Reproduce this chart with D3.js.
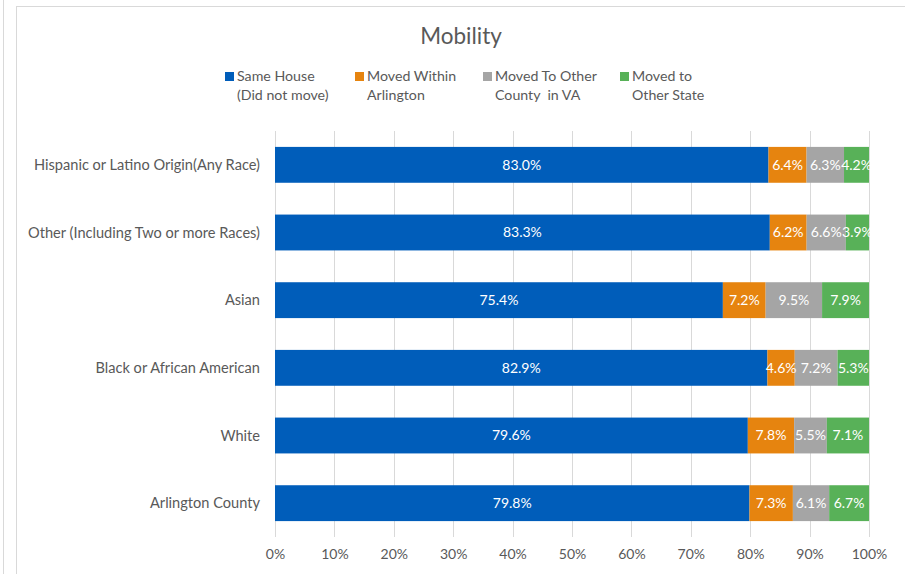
<!DOCTYPE html>
<html>
<head>
<meta charset="utf-8">
<script src="https://cdn.jsdelivr.net/npm/d3@7"></script>
<style>
  body { margin: 0; background: #fff; }
  svg text { font-family: Lato, "Open Sans", sans-serif; }
</style>
</head>
<body>
<div id="chart"></div>
<script>
let width = 905
  , height = 574
  , marginLeft = 275
  , plotRight = 869
  , plotTop = 131
  , plotBottom = 537;

// rows, top to bottom
let categories = [
  'Hispanic or Latino Origin(Any Race)',
  'Other (Including Two or more Races)',
  'Asian',
  'Black or African American',
  'White',
  'Arlington County'
];
let seriesNames = ['Same House\n(Did not move)', 'Moved Within\nArlington', 'Moved To Other\nCounty  in VA', 'Moved to\nOther State'];
let sameHouse     = [83.0, 83.3, 75.4, 82.9, 79.6, 79.8];
let withinArl     = [6.4, 6.2, 7.2, 4.6, 7.8, 7.3];
let otherCounty   = [6.3, 6.6, 9.5, 7.2, 5.5, 6.1];
let otherState    = [4.2, 3.9, 7.9, 5.3, 7.1, 6.7];
let tickValues = [0, 0.1, 0.2, 0.3, 0.4, 0.5, 0.6, 0.7, 0.8, 0.9, 1];
let colors = ['#005DBA', '#E6840F', '#A5A5A5', '#58B158'];

let svg = d3.select('#chart').append('svg').attr('width', width).attr('height', height);

// chart frame (clipped by window on the right/bottom)
svg.append('line').attr('x1', 3.5).attr('x2', 3.5).attr('y1', 0).attr('y2', height).attr('stroke', '#d9d9d9');
svg.append('rect').attr('x', 16.5).attr('y', 6.5).attr('width', 1000).attr('height', 1000)
  .attr('fill', 'none').attr('stroke', '#d9d9d9');

let x = d3.scaleLinear().domain([0, 1]).range([marginLeft, plotRight]);
let y = d3.scaleBand().domain(categories).range([plotTop, plotBottom]).paddingInner(0.47).paddingOuter(0.235);

// gridlines
svg.append('g').selectAll('line').data(tickValues).enter().append('line')
  .attr('x1', d => Math.round(x(d)) + 0.5).attr('x2', d => Math.round(x(d)) + 0.5)
  .attr('y1', plotTop).attr('y2', plotBottom)
  .attr('stroke', '#d9d9d9');

let rows = categories.map((c, i) => {
  let vals = [sameHouse[i], withinArl[i], otherCounty[i], otherState[i]];
  let total = d3.sum(vals);
  let acc = 0;
  return vals.map((v, k) => {
    let seg = { cat: c, k: k, v: v, x0: acc / total, x1: (acc + v) / total };
    acc += v;
    return seg;
  });
});
let segs = rows.flat();

svg.append('g').selectAll('rect').data(segs).enter().append('rect')
  .attr('x', d => x(d.x0)).attr('width', d => x(d.x1) - x(d.x0))
  .attr('y', d => y(d.cat)).attr('height', y.bandwidth())
  .attr('fill', d => colors[d.k]);

svg.append('g').selectAll('text').data(segs).enter().append('text')
  .attr('x', d => (x(d.x0) + x(d.x1)) / 2)
  .attr('y', d => y(d.cat) + y.bandwidth() / 2)
  .attr('dy', '0.35em')
  .attr('text-anchor', 'middle')
  .attr('font-size', 14)
  .attr('fill', '#fff')
  .text(d => d.v.toFixed(1) + '%');

// category labels
svg.append('g').selectAll('text').data(categories).enter().append('text')
  .attr('x', 260).attr('y', d => y(d) + y.bandwidth() / 2).attr('dy', '0.35em')
  .attr('text-anchor', 'end').attr('font-size', 14.6).attr('fill', '#595959')
  .text(d => d);

// x axis labels
let xAxis = d3.axisBottom(x).tickValues(tickValues).tickFormat(d3.format('.0%')).tickSize(0).tickPadding(12);
let gx = svg.append('g').attr('transform', 'translate(0,' + plotBottom + ')').call(xAxis);
gx.select('.domain').remove();
gx.selectAll('text').attr('font-size', 14).attr('fill', '#595959').attr('font-family', 'Lato, sans-serif');

// title
svg.append('text').attr('x', 461).attr('y', 44).attr('text-anchor', 'middle')
  .attr('font-size', 22.5).attr('fill', '#595959').text('Mobility');

// legend
let legendX = [225, 355, 483, 620];
let legend = svg.append('g').selectAll('g').data(seriesNames).enter().append('g')
  .attr('transform', (d, i) => 'translate(' + legendX[i] + ',0)');
legend.append('rect').attr('x', 0).attr('y', 72).attr('width', 9).attr('height', 9)
  .attr('fill', (d, i) => colors[i]);
legend.append('text').attr('font-size', 14.2).attr('fill', '#595959')
  .style('white-space', 'pre')
  .selectAll('tspan').data(d => d.split('\n')).enter().append('tspan')
  .attr('x', (d, j, n) => 12)
  .attr('y', (d, j) => 81 + j * 19)
  .text(d => d);
</script>
</body>
</html>
